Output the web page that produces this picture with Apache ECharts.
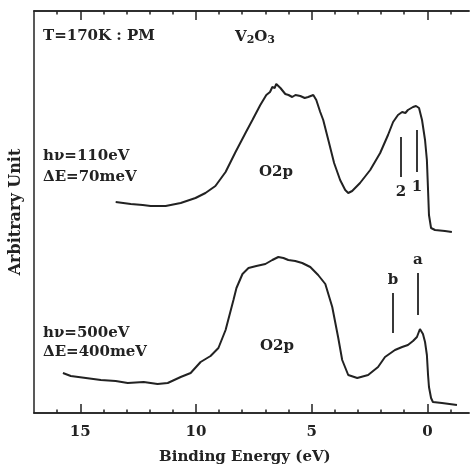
<!DOCTYPE html>
<html>
<head>
<meta charset="utf-8">
<script src="https://cdn.jsdelivr.net/npm/echarts@6/dist/echarts.min.js"></script>
<style>
  html, body { margin: 0; padding: 0; background: #fff; }
  #chart { width: 470px; height: 467px; }
</style>
</head>
<body>
<div id="chart"></div>
<script>
// binding energy (eV) and intensity (arb.)
const upperEnergy = [13.47, 12.82, 12.3, 11.96, 11.31, 10.66, 10.02, 9.59, 9.16, 8.72, 8.29, 7.86, 7.56, 7.22, 6.96, 6.8, 6.70, 6.6, 6.53, 6.45, 6.35, 6.14, 6.0, 5.84, 5.7, 5.49, 5.3, 5.15, 4.93, 4.80, 4.63, 4.50, 4.28, 4.03, 3.77, 3.55, 3.42, 3.25, 2.91, 2.47, 2.04, 1.70, 1.48, 1.27, 1.09, 0.95, 0.84, 0.62, 0.49, 0.36, 0.23, 0.10, 0.02, -0.03, -0.07, -0.16, -0.33, -0.76, -1.06]
const upperCounts = [211, 209, 208, 207, 207, 210, 215, 220, 227, 241, 261, 280, 293, 308, 318, 321, 326, 325, 329, 327, 325, 319, 318, 316, 318, 317, 315, 316, 318, 313, 301, 293, 273, 250, 233, 223, 220, 222, 230, 243, 260, 278, 291, 298, 301, 300, 303, 306, 307, 305, 293, 273, 253, 223, 198, 185, 183, 182, 181]

const lowerEnergy = [15.75, 15.41, 14.76, 14.11, 13.47, 12.95, 12.26, 11.66, 11.22, 10.66, 10.23, 9.80, 9.37, 9.03, 8.72, 8.38, 8.25, 7.99, 7.73, 7.39, 7.00, 6.70, 6.44, 6.22, 6.01, 5.71, 5.41, 5.06, 4.72, 4.41, 4.11, 3.85, 3.68, 3.42, 3.03, 2.56, 2.13, 1.83, 1.40, 1.09, 0.84, 0.62, 0.45, 0.32, 0.19, 0.10, 0.02, -0.03, -0.07, -0.16, -0.24, -0.63, -1.28]
const lowerCounts = [40, 37, 35, 33, 32, 30, 31, 29, 30, 36, 40, 51, 57, 65, 83, 113, 125, 139, 145, 147, 149, 153, 156, 155, 153, 152, 150, 146, 138, 129, 106, 75, 53, 38, 35, 38, 46, 56, 63, 66, 68, 72, 76, 84, 79, 71, 58, 38, 26, 15, 11, 10, 8]

// marker bars: name, energy, [bottom, top]
const upperMarkNames = ['1', '2']
const upperMarkEnergy = [0.45, 1.14]
const upperMarkRange = [[241, 283], [236, 276]]
const lowerMarkNames = ['a', 'b']
const lowerMarkEnergy = [0.41, 1.48]
const lowerMarkRange = [[98, 140], [80, 120]]

const majorTicks = [0, 5, 10, 15]
const minorTicks = [-1, 1, 2, 3, 4, 6, 7, 8, 9, 11, 12, 13, 14, 16]

const ink = '#222'
const font = 'DejaVu Serif'

const zip = (xs, ys) => xs.map((x, i) => [x, ys[i]])

function markData(names, energy, range) {
  return names.map((n, i) => [
    { coord: [energy[i], range[i][0]], name: n },
    { coord: [energy[i], range[i][1]] }
  ])
}

function xAxisDef(position, ticks, len, labels) {
  return {
    type: 'value', position: position, min: -1.8, max: 17, inverse: true,
    axisLine: { show: true, onZero: false, lineStyle: { color: ink, width: 1.5 } },
    axisTick: { show: true, inside: true, length: len, customValues: ticks, lineStyle: { color: ink, width: 1.5 } },
    axisLabel: labels ? {
      customValues: ticks, margin: 12, color: ink,
      fontFamily: font, fontWeight: 'bold', fontSize: 15
    } : { show: false },
    splitLine: { show: false }
  }
}

function text(x, y, s) {
  return {
    type: 'text', left: x, top: y,
    style: { text: s, fill: ink, font: 'bold 15px "DejaVu Serif"' }
  }
}

const chart = echarts.init(document.getElementById('chart'))
chart.setOption({
  backgroundColor: '#fff',
  animation: false,
  grid: { left: 33, right: 1, top: 11, bottom: 54 },
  xAxis: [
    xAxisDef('bottom', majorTicks, 9, true),
    xAxisDef('bottom', minorTicks, 3.5, false),
    xAxisDef('top', majorTicks, 9, false),
    xAxisDef('top', minorTicks, 3.5, false)
  ],
  yAxis: {
    type: 'value', min: 0, max: 402,
    name: 'Arbitrary Unit', nameLocation: 'middle', nameGap: 10,
    nameTextStyle: { color: ink, fontFamily: font, fontWeight: 'bold', fontSize: 16 },
    axisLine: { show: true, onZero: false, lineStyle: { color: ink, width: 1.5 } },
    axisTick: { show: false },
    axisLabel: { show: false },
    splitLine: { show: false }
  },
  graphic: [
    text(43, 29, 'T=170K : PM'),
    {
      type: 'text', left: 235, top: 30,
      style: {
        text: '{a|V}{s|2}{a|O}{s|3}',
        rich: {
          a: { fontFamily: font, fontWeight: 'bold', fontSize: 15, fill: ink },
          s: { fontFamily: font, fontWeight: 'bold', fontSize: 11, fill: ink, padding: [6, 0, 0, 0] }
        }
      }
    },
    text(43, 149, 'hν=110eV'),
    text(43, 170, 'ΔE=70meV'),
    text(259, 165, 'O2p'),
    text(43, 326, 'hν=500eV'),
    text(43, 345, 'ΔE=400meV'),
    text(260, 339, 'O2p'),
    text(159, 450, 'Binding Energy (eV)')
  ],
  series: [
    {
      type: 'line', data: zip(upperEnergy, upperCounts), showSymbol: false,
      lineStyle: { color: ink, width: 2 },
      markLine: {
        silent: true, symbol: 'none', animation: false,
        lineStyle: { color: ink, width: 1.8, type: 'solid' },
        label: { position: 'start', distance: 8, formatter: '{b}', color: ink, fontFamily: font, fontWeight: 'bold', fontSize: 15 },
        data: markData(upperMarkNames, upperMarkEnergy, upperMarkRange)
      }
    },
    {
      type: 'line', data: zip(lowerEnergy, lowerCounts), showSymbol: false,
      lineStyle: { color: ink, width: 2 },
      markLine: {
        silent: true, symbol: 'none', animation: false,
        lineStyle: { color: ink, width: 1.8, type: 'solid' },
        label: { position: 'end', distance: 5, formatter: '{b}', color: ink, fontFamily: font, fontWeight: 'bold', fontSize: 15 },
        data: markData(lowerMarkNames, lowerMarkEnergy, lowerMarkRange)
      }
    }
  ]
})
</script>
</body>
</html>
